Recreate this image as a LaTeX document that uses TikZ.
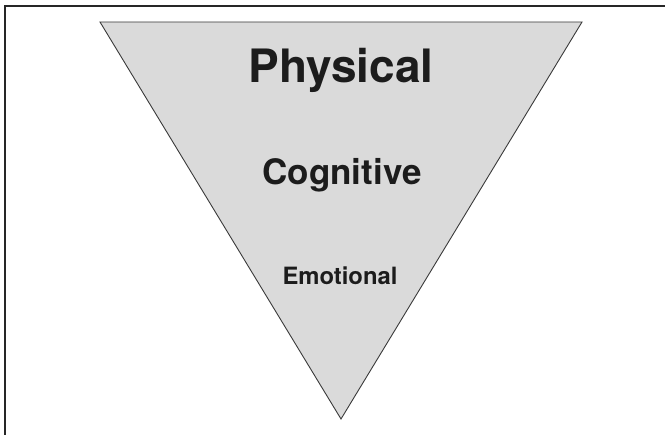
\documentclass[tikz,border=0pt]{standalone}
\usepackage{fontspec}
\setmainfont{TeX Gyre Heros}
\definecolor{tri}{HTML}{DADADA}
\definecolor{edge}{HTML}{3A3A3A}
\definecolor{txt}{HTML}{1C1C1C}
\begin{document}
\begin{tikzpicture}[x=1pt,y=-1pt,
  lbl/.style={anchor=base,inner sep=0pt,text=txt,font=\bfseries}]
\useasboundingbox (0,0) rectangle (665,435);
\draw[line width=1.3pt,black!85] (5,435) coordinate (fb) -- (5,6) coordinate (fc) -- (665,6) coordinate (fr);
\coordinate (tl) at (100,22);
\coordinate (tr) at (582,22);
\coordinate (ap) at (341,419);
\filldraw[fill=tri,draw=edge,line width=0.9pt,line join=miter] (tl) -- (tr) -- (ap) -- cycle;
\node[lbl,font=\bfseries\fontsize{46}{50}\selectfont] (phys) at (341,83) {Physical};
\node[lbl,font=\bfseries\fontsize{35}{40}\selectfont] (cog) at (342,185) {Cognitive};
\node[lbl,font=\bfseries\fontsize{23.8}{28}\selectfont] (emo) at (340,285) {Emotional};
\end{tikzpicture}
\end{document}
